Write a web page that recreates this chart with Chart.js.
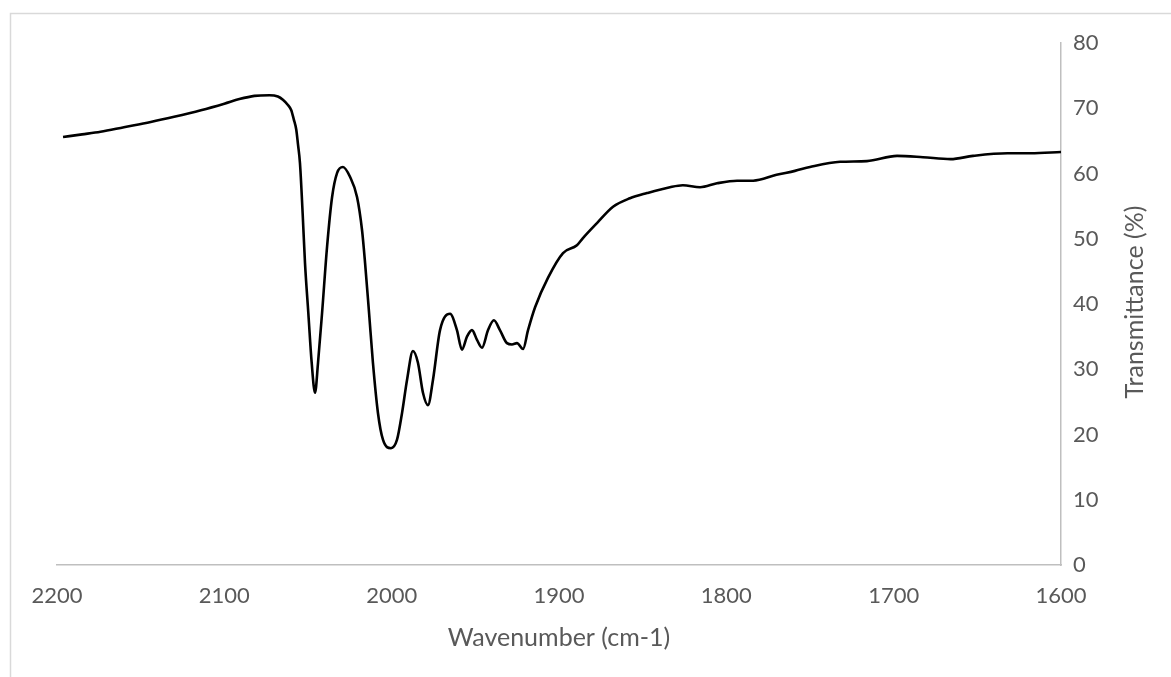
<!DOCTYPE html>
<html>
<head>
<meta charset="utf-8">
<script src="https://cdn.jsdelivr.net/npm/chart.js@4/dist/chart.umd.min.js"></script>
<style>
  html, body { margin: 0; padding: 0; background: #fff; }
  #wrap { width: 1171px; height: 677px; position: relative; }
</style>
</head>
<body>
<div id="wrap"><canvas id="c" width="1171" height="677"></canvas></div>
<script>
const wavenumber = [2196.4, 2185, 2174, 2160, 2144, 2130, 2114, 2100, 2091, 2082, 2073, 2068, 2065, 2062, 2060, 2058.5, 2057, 2056, 2054.8, 2053.2, 2051.8, 2049.8, 2047.8, 2045.8, 2044.0, 2041.6, 2038.6, 2035.6, 2032.6, 2029.1, 2024.9, 2020.7, 2017.7, 2015.9, 2013.5, 2011.2, 2008.2, 2005.2, 2000.4, 1996.8, 1993.8, 1990.8, 1987.3, 1984.3, 1981.3, 1978.3, 1975.3, 1971.1, 1965.1, 1961.0, 1958.0, 1955.0, 1952.0, 1949.0, 1946.0, 1942.4, 1938.9, 1935.3, 1931.1, 1928.1, 1925.1, 1921.5, 1918.5, 1914.3, 1906.6, 1897.6, 1889.3, 1885.7, 1877.3, 1867.7, 1857.6, 1847.4, 1833.7, 1826, 1815.7, 1805.6, 1793.6, 1784, 1770, 1759, 1750, 1732, 1716, 1698, 1682.5, 1666, 1652.6, 1632, 1618, 1600];
const transmittance = [65.6, 66.0, 66.4, 67.1, 67.9, 68.7, 69.7, 70.7, 71.4, 71.9, 72.0, 71.8, 71.3, 70.5, 69.7, 68.3, 66.7, 64.5, 61.6, 53.9, 46.3, 38.6, 31.0, 26.4, 31.0, 38.6, 48.8, 56.4, 60.1, 61.0, 59.5, 56.4, 51.3, 46.3, 38.6, 31.0, 23.3, 19.2, 17.9, 19.2, 23.3, 28.4, 32.8, 31.0, 26.4, 24.5, 28.4, 36.0, 38.5, 36.0, 33.0, 35.0, 36.0, 34.5, 33.3, 36.0, 37.5, 36.0, 34.0, 33.8, 34.0, 33.1, 36.0, 39.5, 44.0, 47.8, 49.0, 50.1, 52.4, 54.9, 56.2, 57.0, 57.9, 58.2, 57.9, 58.5, 58.9, 58.9, 59.8, 60.4, 61.0, 61.8, 61.9, 62.7, 62.5, 62.2, 62.7, 63.1, 63.1, 63.3];
const xTicks = [2200, 2100, 2000, 1900, 1800, 1700, 1600];
const yTicks = [0, 10, 20, 30, 40, 50, 60, 70, 80];
const xTitle = 'Wavenumber (cm-1)';
const yTitle = 'Transmittance (%)';

const FONT = 'Lato, "Open Sans", sans-serif';
const GREY = '#595959';

const points = wavenumber.map((w, i) => ({ x: w, y: transmittance[i] }));

const framePlugin = {
  id: 'frame',
  beforeDraw(chart) {
    const ctx = chart.ctx;
    ctx.save();
    ctx.fillStyle = '#fff';
    ctx.fillRect(0, 0, chart.width, chart.height);
    ctx.strokeStyle = '#d9d9d9';
    ctx.lineWidth = 1.5;
    ctx.beginPath();
    ctx.moveTo(10.5, chart.height + 5);
    ctx.lineTo(10.5, 13.5);
    ctx.lineTo(chart.width + 5, 13.5);
    ctx.stroke();
    ctx.restore();
  },
  afterDraw(chart) {
    const ctx = chart.ctx;
    const a = chart.chartArea;
    ctx.save();
    ctx.fillStyle = GREY;
    ctx.font = '25px ' + FONT;
    ctx.textAlign = 'center';
    ctx.textBaseline = 'middle';
    ctx.translate(1135, (a.top + a.bottom) / 2 - 2);
    ctx.rotate(-Math.PI / 2);
    ctx.fillText(yTitle, 0, 0);
    ctx.restore();
  }
};

new Chart(document.getElementById('c'), {
  type: 'scatter',
  data: {
    datasets: [{
      data: points,
      showLine: true,
      borderColor: '#000',
      backgroundColor: '#000',
      borderWidth: 2.6,
      pointRadius: 0,
      cubicInterpolationMode: 'monotone'
    }]
  },
  options: {
    responsive: false,
    animation: false,
    events: [],
    layout: { padding: { left: 57, top: 43, right: 0, bottom: 0 } },
    plugins: { legend: { display: false }, tooltip: { enabled: false } },
    scales: {
      x: {
        type: 'linear',
        reverse: true,
        min: 1600,
        max: 2200,
        afterBuildTicks(s) { s.ticks = xTicks.map(v => ({ value: v })); },
        afterFit(s) { s.height = 112; },
        grid: { display: false, drawTicks: false },
        border: { display: true, color: '#bfbfbf', width: 1.5 },
        ticks: { color: GREY, font: { family: FONT, size: 22 }, padding: 18, maxRotation: 0, autoSkip: false, callback: v => String(v) },
        title: { display: true, text: xTitle, color: GREY, font: { family: FONT, size: 25 }, padding: { top: 0, bottom: 24 } }
      },
      y: {
        type: 'linear',
        position: 'right',
        min: 0,
        max: 80,
        afterBuildTicks(s) { s.ticks = yTicks.map(v => ({ value: v })); },
        afterFit(s) { s.width = 110; },
        grid: { display: false, drawTicks: false },
        border: { display: true, color: '#bfbfbf', width: 1.5 },
        ticks: { color: GREY, font: { family: FONT, size: 22 }, padding: 12, callback: v => String(v) }
      }
    }
  },
  plugins: [framePlugin]
});
</script>
</body>
</html>
